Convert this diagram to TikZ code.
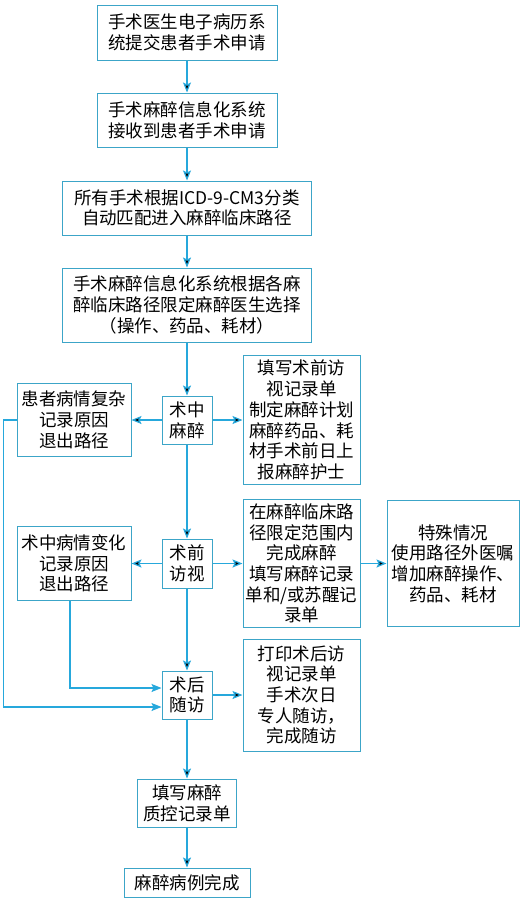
\documentclass[tikz,border=0pt]{standalone}
\usepackage{fontspec}
\setmainfont{Noto Sans CJK SC}
\usetikzlibrary{positioning,arrows.meta}

\definecolor{linecol}{RGB}{38,168,220}
\definecolor{boxcol}{RGB}{60,165,200}

\begin{document}
\begin{tikzpicture}[on grid,
    box/.style={draw=boxcol,line width=1pt,align=center,inner sep=1pt,
      font=\fontsize{17.5pt}{20.7pt}\selectfont},
    every path/.style={},
    flow/.style={draw=linecol,line width=1.2pt,-{Stealth[length=10pt,width=8pt,inset=2pt]}}]
  \useasboundingbox (0,0) rectangle (526pt,-903pt);
  \node[box,minimum width=180pt,minimum height=55pt] (p_1) at (187pt,-32.5pt) {手术医生电子病历系\\统提交患者手术申请};
  \node[box,minimum width=180pt,minimum height=54pt] (p_2) [below=87.5pt of p_1] {手术麻醉信息化系统\\接收到患者手术申请};
  \node[box,minimum width=249pt,minimum height=54pt] (p_3) [below=88pt of p_2] {所有手术根据ICD-9-CM3分类\\自动匹配进入麻醉临床路径};
  \node[box,minimum width=249pt,minimum height=74pt] (p_4) [below=97pt of p_3] {手术麻醉信息化系统根据各麻\\醉临床路径限定麻醉医生选择\\（操作、药品、耗材）};
  \node[box,minimum width=50pt,minimum height=48pt] (p_5) [below=115pt of p_4] {术中\\麻醉};
  \node[box,minimum width=50pt,minimum height=49pt] (p_6) [below=143.5pt of p_5] {术前\\访视};
  \node[box,minimum width=50pt,minimum height=48pt] (p_7) [below=131.5pt of p_6] {术后\\随访};
  \node[box,minimum width=99pt,minimum height=48pt] (p_8) [below=108pt of p_7] {填写麻醉\\质控记录单};
  \node[box,minimum width=126pt,minimum height=29pt] (p_9) [below=79.5pt of p_8] {麻醉病例完成};
  \node[box,minimum width=114pt,minimum height=73pt] (l_1) [left=113pt of p_5] {患者病情复杂\\记录原因\\退出路径};
  \node[box,minimum width=114pt,minimum height=74pt] (l_2) [left=113pt of p_6] {术中病情变化\\记录原因\\退出路径};
  \node[box,minimum width=117pt,minimum height=129pt] (r_1) [right=114.5pt of p_5] {填写术前访\\视记录单\\制定麻醉计划\\麻醉药品、耗\\材手术前日上\\报麻醉护士};
  \node[box,minimum width=117pt,minimum height=128pt] (r_2) [right=114.5pt of p_6] {在麻醉临床路\\径限定范围内\\完成麻醉\\填写麻醉记录\\单和/或苏醒记\\录单};
  \node[box,minimum width=117pt,minimum height=112pt] (r_3) [right=114.5pt of p_7] {打印术后访\\视记录单\\手术次日\\专人随访，\\完成随访};
  \node[box,minimum width=132pt,minimum height=126pt] (x_1) [right=151.5pt of r_2] {特殊情况\\使用路径外医嘱\\增加麻醉操作、\\药品、耗材};
  \path[flow]
  (p_1) edge (p_2)
  (p_2) edge (p_3)
  (p_3) edge (p_4)
  (p_4) edge (p_5)
  (p_5) edge (p_6)
        edge (l_1)
        edge (r_1)
  (p_6) edge (p_7)
        edge (l_2)
        edge (r_2)
  (r_2) edge (x_1)
  (p_7) edge (p_8)
        edge (r_3)
  (p_8) edge (p_9);
  \draw[flow] (l_1.west) -- ([xshift=-13pt]l_1.west) |- ([yshift=-12pt]p_7.west);
  \draw[flow] ([xshift=-4pt]l_2.south) |- ([yshift=7pt]p_7.west);
\end{tikzpicture}
\end{document}
